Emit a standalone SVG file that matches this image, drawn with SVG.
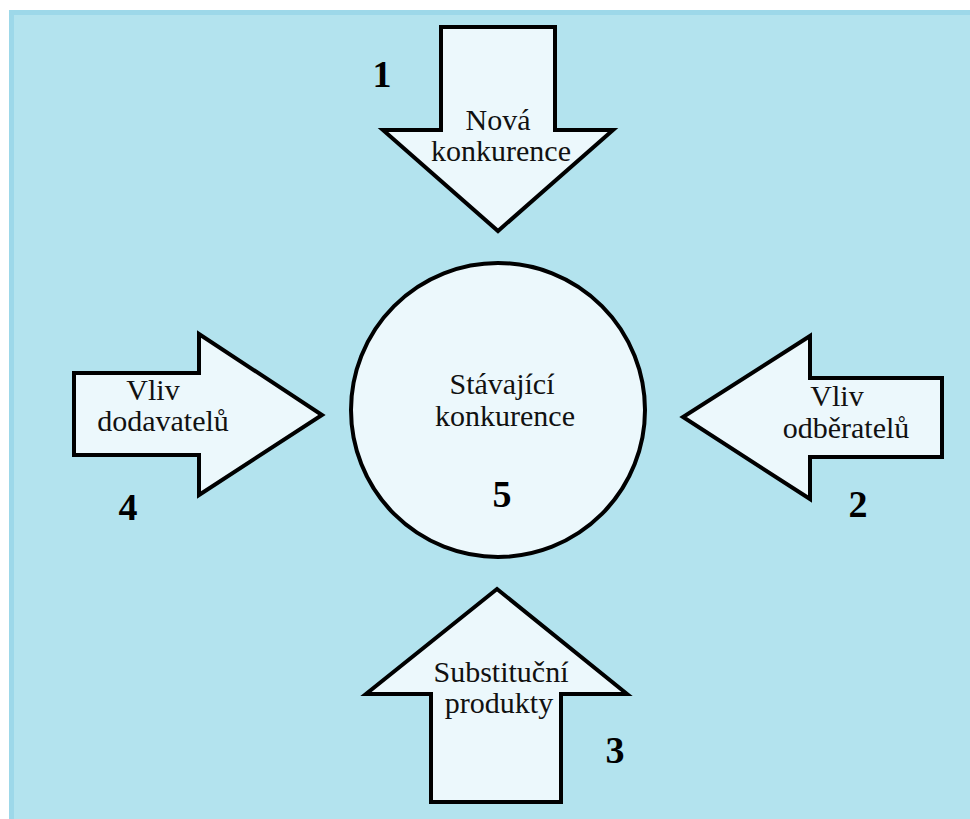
<svg xmlns="http://www.w3.org/2000/svg" width="970" height="819" viewBox="0 0 970 819">
<style>
.shape{fill:#ecf8fc;stroke:#000;stroke-width:4;stroke-linejoin:miter}
.lbl{font-family:"Liberation Serif","Times New Roman",serif;font-size:30px;fill:#111;text-anchor:middle}
.num{font-family:"Liberation Serif","Times New Roman",serif;font-size:38px;font-weight:bold;fill:#000;text-anchor:middle}
</style>
<rect x="0" y="0" width="970" height="819" fill="#ffffff"/>
<rect x="9" y="10" width="961" height="809" fill="#9dd8e9"/>
<rect x="14" y="15" width="956" height="804" fill="#b3e3ee"/>
<g id="connectors"></g>
<g id="node-top">
<polygon class="shape" points="441,27 555,27 555,130 613,130 498,231 383,130 441,130"/>
<text class="lbl" x="498" y="130">Nová</text>
<text class="lbl" x="501" y="161">konkurence</text>
<text class="num" x="382" y="87">1</text>
</g>
<g id="node-left">
<polygon class="shape" points="74,373 199,373 199,334 322,415 199,495 199,455 74,455"/>
<text class="lbl" x="153" y="400">Vliv</text>
<text class="lbl" x="163" y="431">dodavatelů</text>
<text class="num" x="128" y="520">4</text>
</g>
<g id="node-right">
<polygon class="shape" points="942,378 810,378 810,336 683,417 810,499 810,457 942,457"/>
<text class="lbl" x="837" y="406">Vliv</text>
<text class="lbl" x="846" y="438">odběratelů</text>
<text class="num" x="858" y="517">2</text>
</g>
<g id="node-bottom">
<polygon class="shape" points="497,589 627,694 561,694 561,802 431,802 431,694 366,694"/>
<text class="lbl" x="501" y="682">Substituční</text>
<text class="lbl" x="499" y="713">produkty</text>
<text class="num" x="615" y="763">3</text>
</g>
<g id="node-center">
<circle class="shape" cx="498" cy="410" r="147"/>
<text class="lbl" x="502" y="394">Stávající</text>
<text class="lbl" x="505" y="426">konkurence</text>
<text class="num" x="502" y="507">5</text>
</g>
</svg>
